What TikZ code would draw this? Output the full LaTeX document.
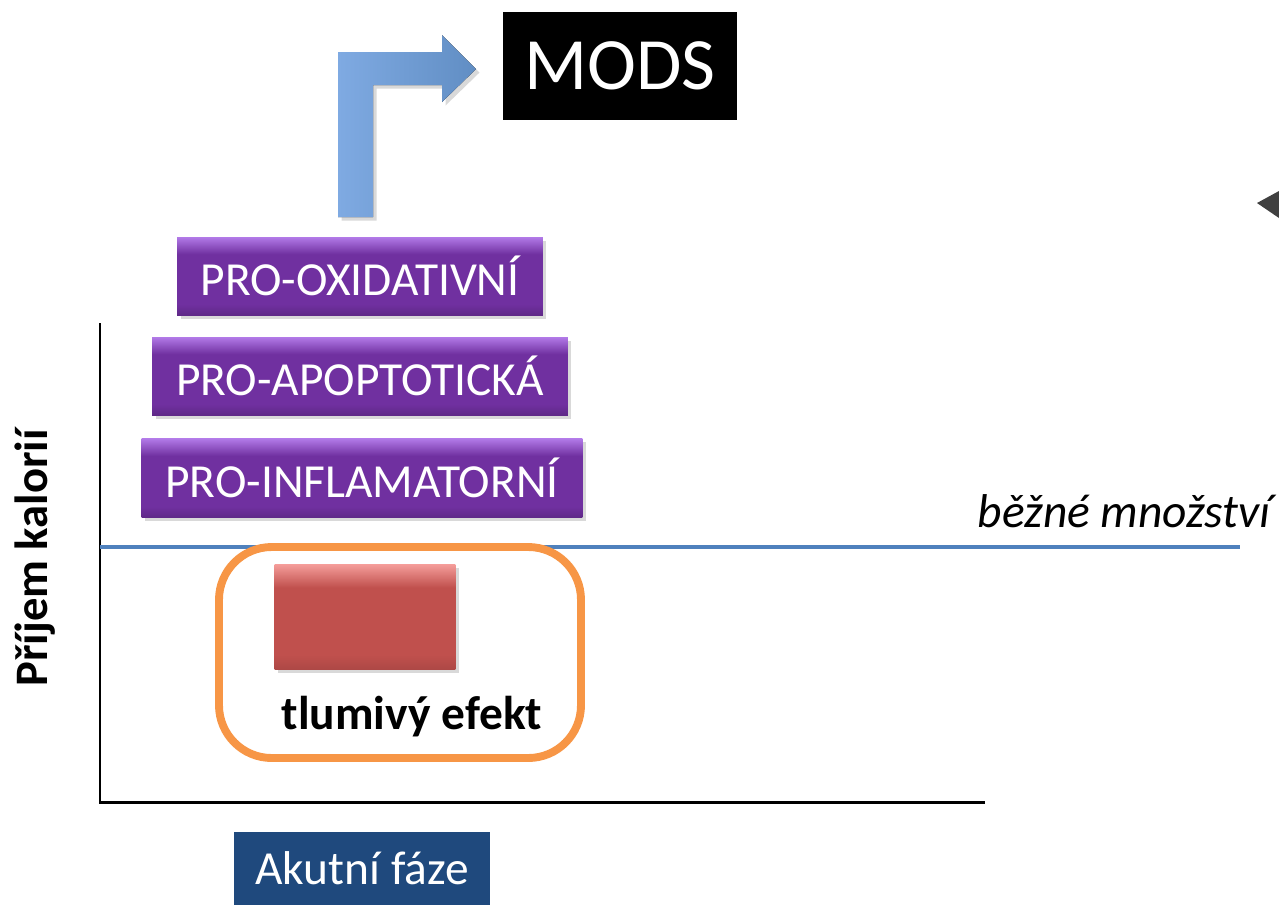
\documentclass[tikz,border=0pt]{standalone}
\usepackage{fontspec}
\setmainfont{Carlito}
\usetikzlibrary{shadows}
\definecolor{purp}{HTML}{7030A0}
\definecolor{purpLight}{HTML}{B27AE8}
\definecolor{redBox}{HTML}{C0504D}
\definecolor{redLight}{HTML}{F49C99}
\definecolor{orangeLine}{HTML}{F79646}
\definecolor{blueLine}{HTML}{4F81BD}
\definecolor{arrowLight}{HTML}{7FAAE2}
\definecolor{navy}{HTML}{1F497D}
\pgfdeclareverticalshading{purpbevel}{100bp}{color(0bp)=(purp!85!black); color(25bp)=(purp!85!black);
    color(32bp)=(purp); color(64bp)=(purp); color(75bp)=(purpLight); color(100bp)=(purpLight)}
\pgfdeclareverticalshading{redbevel}{100bp}{color(0bp)=(redBox!90!black); color(25bp)=(redBox!90!black);
    color(32bp)=(redBox); color(64bp)=(redBox); color(75bp)=(redLight); color(100bp)=(redLight)}
\begin{document}
\begin{tikzpicture}[x=0.02cm, y=-0.02cm,
    purplebox/.style={rectangle, inner sep=0pt, text=white, font=\fontsize{27}{31}\selectfont,
        shading=purpbevel, drop shadow={opacity=0.3, shadow xshift=2pt, shadow yshift=-2pt}},
    label/.style={inner sep=0pt, font=\fontsize{27}{31}\selectfont}]
    \useasboundingbox (0, 0) rectangle (1279, 904);

    % axes
    \draw[line width=1.7pt] (100, 323) -- (100, 802) -- (985, 802);

    % normal intake line
    \draw[blueLine, line width=2.3pt] (100, 547) -- (1240, 547);
    \node[label, font=\fontsize{27}{31}\selectfont\itshape, anchor=base east] (normal) at (1271, 527) {běžné množství};

    % the three responses
    \node[purplebox, minimum width=7.32cm, minimum height=1.56cm] (oxid) at (360, 276) {PRO-OXIDATIVNÍ};
    \node[purplebox, minimum width=8.32cm, minimum height=1.56cm] (apop) at (360, 376) {PRO-APOPTOTICKÁ};
    \node[purplebox, minimum width=8.82cm, minimum height=1.58cm] (infl) at (362, 478) {PRO-INFLAMATORNÍ};

    % arrow up to MODS
    \fill[left color=arrowLight, right color=blueLine!90!white, drop shadow={opacity=0.3, shadow xshift=2pt, shadow yshift=-2pt}]
        (338, 217) -- (338, 52) -- (442, 52) -- (442, 35) -- (476, 69)
        -- (442, 102) -- (442, 85) -- (373, 85) -- (373, 217) -- cycle;
    \node[fill=black, text=white, inner sep=0pt, minimum width=4.68cm, minimum height=2.16cm,
        font=\fontsize{42}{46}\selectfont] (mods) at (620, 66) {MODS};

    % partial arrow tip at the right edge
    \fill[black!75] (1257, 203) -- (1279, 191) -- (1279, 218) -- cycle;

    % suppressing effect
    \draw[orangeLine, line width=4.5pt, rounded corners=30] (219, 547) rectangle (581, 758);
    \node[rectangle, minimum width=3.62cm, minimum height=2.1cm, shading=redbevel,
        drop shadow={opacity=0.3, shadow xshift=2pt, shadow yshift=-2pt}] (damp) at (365, 617) {};
    \node[label, font=\fontsize{27}{31}\selectfont\bfseries, anchor=base] (dampText) at (412, 729) {tlumivý efekt};

    % axis labels
    \node[label, font=\fontsize{26.5}{30}\selectfont\bfseries, rotate=90] (yaxis) at (35, 558) {Příjem kalorií};
    \node[fill=navy, text=white, inner sep=0pt, minimum width=5.14cm, minimum height=1.46cm,
        font=\fontsize{27}{31}\selectfont] (phase) at (362, 868) {Akutní fáze};
\end{tikzpicture}
\end{document}
